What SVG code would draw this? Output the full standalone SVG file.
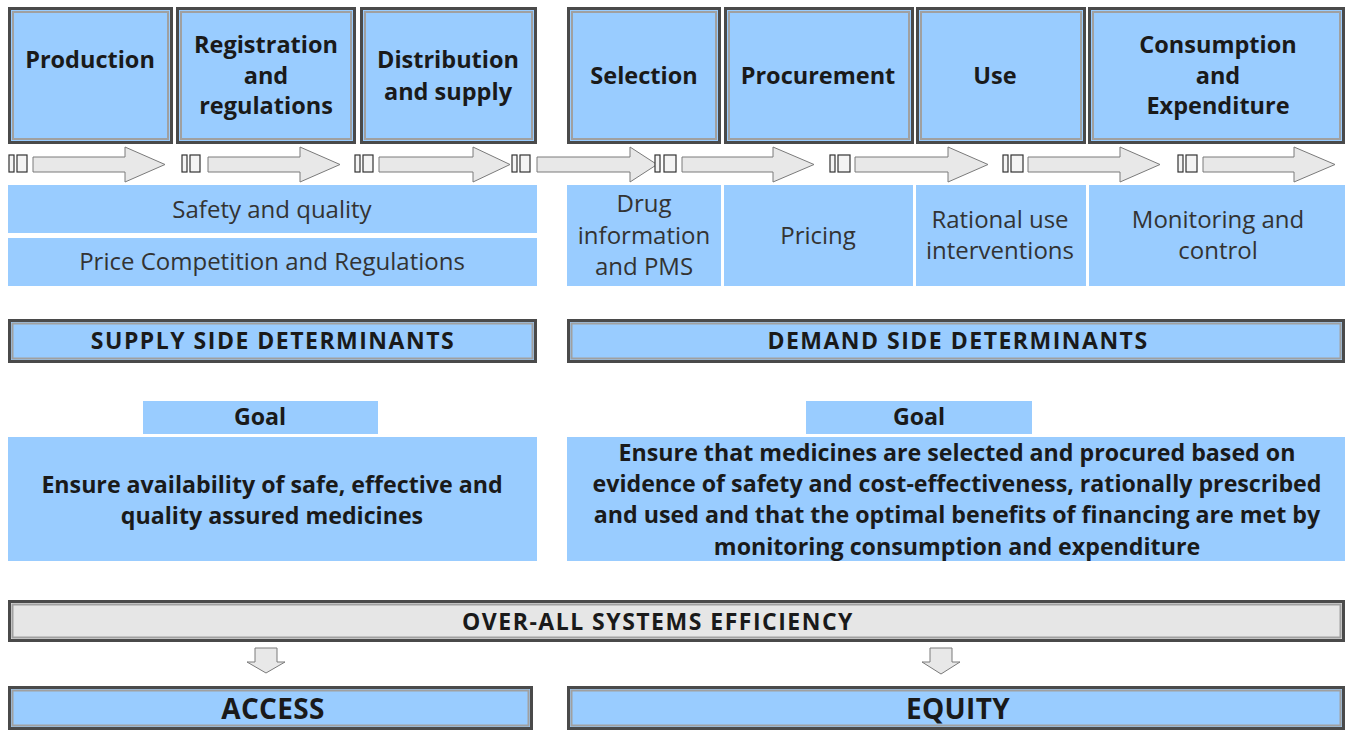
<svg xmlns="http://www.w3.org/2000/svg" width="1346" height="730" viewBox="0 0 1346 730">
<style>
.bx{fill:#99CCFF;stroke:#4a4a4a;stroke-width:3}
.bi{fill:none;stroke:#a0a0a0;stroke-width:2}
.fl{fill:#99CCFF}
.gr{fill:#e6e6e6;stroke:#4a4a4a;stroke-width:3}
.ar{fill:#e8e8e8;stroke:#7a7a7a;stroke-width:1}
.bar{fill:#f4f4f4;stroke:#333;stroke-width:1.2}
text{font-family:"Open Sans","Noto Sans","Liberation Sans",sans-serif;text-anchor:middle;fill:#1a1a1a}
.t{font-size:23.5px;font-weight:bold}
.m{font-size:24px;fill:#333}
.h{font-size:23px;font-weight:bold;letter-spacing:1.5px}
.g{font-size:23.2px;font-weight:bold}
.big{font-size:28px;font-weight:bold;letter-spacing:0.3px}
</style>
<rect width="1346" height="730" fill="#ffffff"/>
<g id="production"><rect class="bx" x="9.5" y="8.5" width="162" height="134"/><rect class="bi" x="13" y="12" width="155" height="127"/><text class="t" x="90" y="68">Production</text></g>
<g id="registration"><rect class="bx" x="177.5" y="8.5" width="177" height="134"/><rect class="bi" x="181" y="12" width="170" height="127"/><text class="t" x="266" y="53">Registration</text><text class="t" x="266" y="84">and</text><text class="t" x="266" y="114">regulations</text></g>
<g id="distribution"><rect class="bx" x="361.5" y="8.5" width="174" height="134"/><rect class="bi" x="365" y="12" width="167" height="127"/><text class="t" x="448" y="68">Distribution</text><text class="t" x="448" y="100">and supply</text></g>
<g id="selection"><rect class="bx" x="568.5" y="8.5" width="151" height="134"/><rect class="bi" x="572" y="12" width="144" height="127"/><text class="t" x="644" y="84">Selection</text></g>
<g id="procurement"><rect class="bx" x="725.5" y="8.5" width="187" height="134"/><rect class="bi" x="729" y="12" width="180" height="127"/><text class="t" x="818" y="84">Procurement</text></g>
<g id="use"><rect class="bx" x="917.5" y="8.5" width="167" height="134"/><rect class="bi" x="921" y="12" width="160" height="127"/><text class="t" x="995" y="84">Use</text></g>
<g id="consumption"><rect class="bx" x="1089.5" y="8.5" width="254" height="134"/><rect class="bi" x="1093" y="12" width="247" height="127"/><text class="t" x="1218" y="53">Consumption</text><text class="t" x="1218" y="84">and</text><text class="t" x="1218" y="114">Expenditure</text></g>
<g id="connectors">
<g><rect class="bar" x="9" y="155" width="5" height="17"/><rect class="bar" x="17" y="155" width="10" height="17"/><path class="ar" d="M33,157H125V147L165,164.5L125,182V172H33Z"/></g>
<g><rect class="bar" x="182" y="155" width="5" height="17"/><rect class="bar" x="190" y="155" width="10" height="17"/><path class="ar" d="M208,157H300V147L340,164.5L300,182V172H208Z"/></g>
<g><rect class="bar" x="355" y="155" width="5" height="17"/><rect class="bar" x="363" y="155" width="10" height="17"/><path class="ar" d="M379,157H473V147L510,164.5L473,182V172H379Z"/></g>
<g><rect class="bar" x="512" y="155" width="5" height="17"/><rect class="bar" x="520" y="155" width="10" height="17"/><path class="ar" d="M537,157H630V147L657,164.5L630,182V172H537Z"/></g>
<g><rect class="bar" x="655" y="155" width="5" height="17"/><rect class="bar" x="664" y="155" width="12" height="17"/><path class="ar" d="M682,157H773V147L814,164.5L773,182V172H682Z"/></g>
<g><rect class="bar" x="830" y="155" width="5" height="17"/><rect class="bar" x="838" y="155" width="12" height="17"/><path class="ar" d="M855,157H948V147L988,164.5L948,182V172H855Z"/></g>
<g><rect class="bar" x="1003" y="155" width="5" height="17"/><rect class="bar" x="1011" y="155" width="12" height="17"/><path class="ar" d="M1028,157H1120V147L1160,164.5L1120,182V172H1028Z"/></g>
<g><rect class="bar" x="1178" y="155" width="5" height="17"/><rect class="bar" x="1186" y="155" width="11" height="17"/><path class="ar" d="M1203,157H1294V147L1335,164.5L1294,182V172H1203Z"/></g>
<path class="ar" d="M255,648H277V662H285L266,673L247,662H255Z"/>
<path class="ar" d="M930,648H952V662H960L941,674L922,662H930Z"/>
</g>
<g id="safety"><rect class="fl" x="8" y="185" width="529" height="48"/><text class="m" x="272" y="218">Safety and quality</text></g>
<g id="price"><rect class="fl" x="8" y="238" width="529" height="48"/><text class="m" x="272" y="270">Price Competition and Regulations</text></g>
<g id="druginfo"><rect class="fl" x="567" y="185" width="154" height="101"/><text class="m" x="644" y="212">Drug</text><text class="m" x="644" y="244">information</text><text class="m" x="644" y="275">and PMS</text></g>
<g id="pricing"><rect class="fl" x="724" y="185" width="189" height="101"/><text class="m" x="818" y="244">Pricing</text></g>
<g id="rational"><rect class="fl" x="916" y="185" width="170" height="101"/><text class="m" x="1000" y="228">Rational use</text><text class="m" x="1000" y="259">interventions</text></g>
<g id="monitoring"><rect class="fl" x="1089" y="185" width="256" height="101"/><text class="m" x="1218" y="228">Monitoring and</text><text class="m" x="1218" y="259">control</text></g>
<g id="supply"><rect class="bx" x="9.5" y="320.5" width="526" height="41"/><rect class="bi" x="12.5" y="323.5" width="520" height="35"/><text class="h" x="273" y="349">SUPPLY SIDE DETERMINANTS</text></g>
<g id="demand"><rect class="bx" x="568.5" y="320.5" width="775" height="41"/><rect class="bi" x="571.5" y="323.5" width="769" height="35"/><text class="h" x="958" y="349">DEMAND SIDE DETERMINANTS</text></g>
<g id="goal-left"><rect class="fl" x="143" y="401" width="235" height="33"/><text class="g" x="260" y="425">Goal</text></g>
<g id="goal-right"><rect class="fl" x="806" y="401" width="226" height="33"/><text class="g" x="919" y="425">Goal</text></g>
<g id="goal-left-text"><rect class="fl" x="8" y="437" width="529" height="124"/><text class="g" x="272" y="493">Ensure availability of safe, effective and</text><text class="g" x="272" y="524">quality assured medicines</text></g>
<g id="goal-right-text"><rect class="fl" x="567" y="437" width="778" height="124"/><text class="g" x="957" y="461">Ensure that medicines are selected and procured based on</text><text class="g" x="957" y="492">evidence of safety and cost-effectiveness, rationally prescribed</text><text class="g" x="957" y="523">and used and that the optimal benefits of financing are met by</text><text class="g" x="957" y="555">monitoring consumption and expenditure</text></g>
<g id="efficiency"><rect class="gr" x="9.5" y="601.5" width="1334" height="39"/><rect class="bi" x="12.5" y="604.5" width="1328" height="33"/><text class="h" x="658" y="630">OVER-ALL SYSTEMS EFFICIENCY</text></g>
<g id="access"><rect class="bx" x="9.5" y="687.5" width="522" height="41"/><rect class="bi" x="12.5" y="690.5" width="516" height="35"/><text class="big" x="273" y="719">ACCESS</text></g>
<g id="equity"><rect class="bx" x="568.5" y="687.5" width="775" height="41"/><rect class="bi" x="571.5" y="690.5" width="769" height="35"/><text class="big" x="958" y="719">EQUITY</text></g>
</svg>
